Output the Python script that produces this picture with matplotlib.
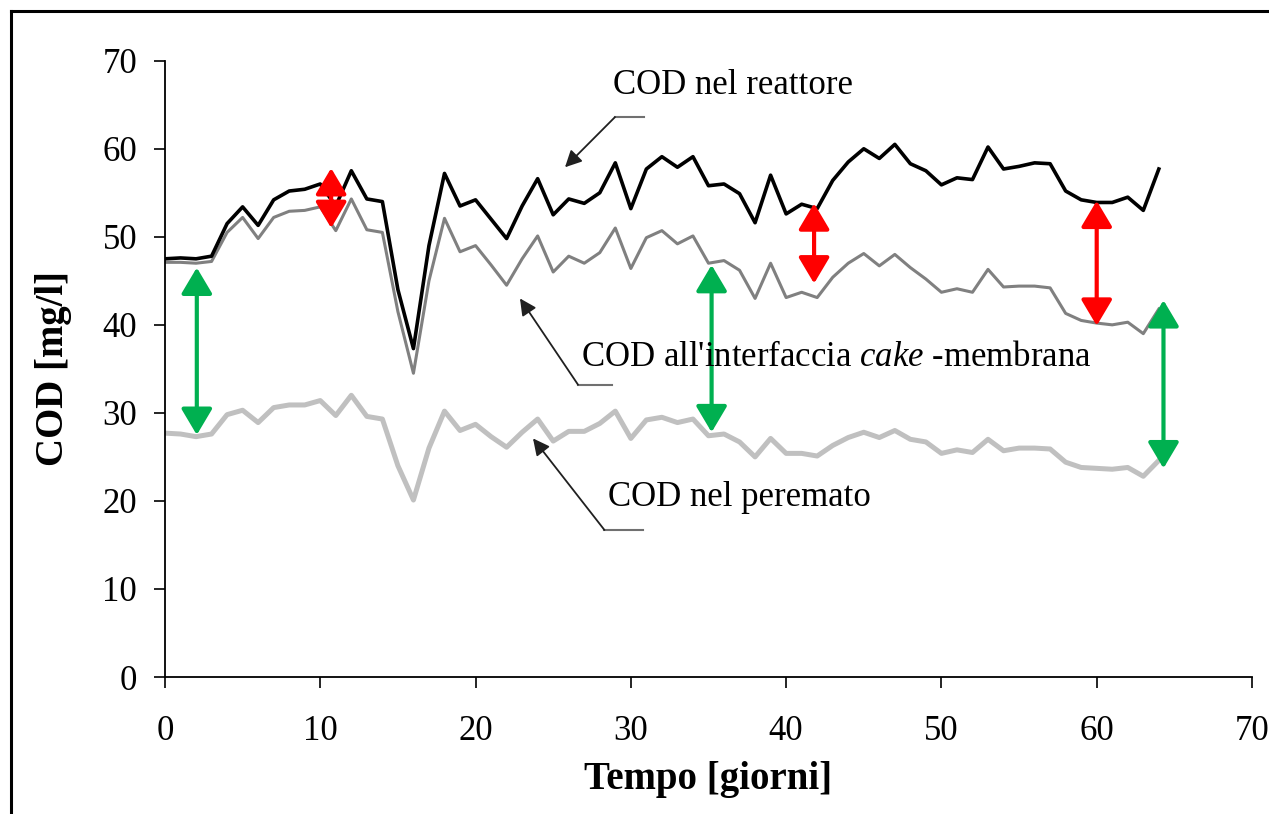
import matplotlib
matplotlib.use('Agg')
import matplotlib.pyplot as plt
from matplotlib.lines import Line2D

plt.rcParams['font.family'] = ['Liberation Serif', 'DejaVu Serif']
plt.rcParams['mathtext.fontset'] = 'custom'
plt.rcParams['mathtext.rm'] = 'Liberation Serif'
plt.rcParams['mathtext.it'] = 'Liberation Serif:italic'

# giorni 0..64
giorni = list(range(65))
reattore = [47.5, 47.6, 47.5, 47.8, 51.5, 53.4, 51.3, 54.2, 55.2, 55.4,
            56.0, 53.5, 57.5, 54.3, 54.0, 44.0, 37.3, 49.0, 57.2, 53.5,
            54.2, 52.0, 49.8, 53.5, 56.6, 52.5, 54.3, 53.8, 55.0, 58.4,
            53.2, 57.7, 59.1, 57.9, 59.1, 55.8, 56.0, 54.9, 51.6, 57.0,
            52.6, 53.7, 53.2, 56.4, 58.5, 60.0, 58.9, 60.5, 58.3, 57.5,
            55.9, 56.7, 56.5, 60.2, 57.7, 58.0, 58.4, 58.3, 55.2, 54.2,
            53.9, 53.9, 54.5, 53.0, 57.7]
interfaccia = [47.1, 47.1, 47.0, 47.2, 50.5, 52.2, 49.8, 52.2, 52.9, 53.0,
               53.4, 50.7, 54.3, 50.8, 50.5, 41.5, 34.5, 45.0, 52.1, 48.3,
               49.0, 46.8, 44.5, 47.5, 50.1, 46.0, 47.8, 47.0, 48.2, 51.0,
               46.4, 49.9, 50.7, 49.2, 50.1, 47.0, 47.3, 46.2, 43.0, 47.0,
               43.1, 43.7, 43.1, 45.4, 47.0, 48.1, 46.7, 48.0, 46.5, 45.2,
               43.7, 44.1, 43.7, 46.3, 44.3, 44.4, 44.4, 44.2, 41.3, 40.5,
               40.2, 40.0, 40.3, 39.0, 41.8]
permeato = [27.7, 27.6, 27.3, 27.6, 29.8, 30.3, 28.9, 30.6, 30.9, 30.9,
            31.4, 29.7, 32.0, 29.6, 29.3, 24.0, 20.1, 26.0, 30.2, 28.0,
            28.7, 27.3, 26.1, 27.8, 29.3, 26.8, 27.9, 27.9, 28.8, 30.2,
            27.1, 29.2, 29.5, 28.9, 29.3, 27.4, 27.6, 26.7, 25.0, 27.1,
            25.4, 25.4, 25.1, 26.3, 27.2, 27.8, 27.2, 28.0, 27.0, 26.7,
            25.4, 25.8, 25.5, 27.0, 25.7, 26.0, 26.0, 25.9, 24.4, 23.8,
            23.7, 23.6, 23.8, 22.8, 24.6]

# frecce doppie (x, y basso, y alto)
frecce_rosse = [(10.7, 51.0, 57.8), (41.8, 44.7, 53.8), (60.0, 39.9, 54.1)]
frecce_verdi = [(2.05, 27.5, 46.5), (35.2, 27.8, 46.8), (64.3, 23.7, 42.8)]

fig = plt.figure(figsize=(12.69, 8.14), dpi=100)
ax = fig.add_axes([0.130, 0.1683, 0.8566, 0.7571])

ax.plot(giorni, permeato, color='#c0c0c0', lw=3.6, solid_joinstyle='round')
ax.plot(giorni, interfaccia, color='#808080', lw=2.2, solid_joinstyle='round')
ax.plot(giorni, reattore, color='black', lw=2.6, solid_joinstyle='round')

stile = '<|-|>,head_length=1.6,head_width=0.95'
for x, y0, y1 in frecce_rosse:
    ax.annotate('', xy=(x, y1), xytext=(x, y0),
                arrowprops=dict(arrowstyle=stile, color='#ff0000', lw=3,
                                mutation_scale=10, shrinkA=0, shrinkB=0))
for x, y0, y1 in frecce_verdi:
    ax.annotate('', xy=(x, y1), xytext=(x, y0),
                arrowprops=dict(arrowstyle=stile, color='#00b050', lw=3,
                                mutation_scale=10, shrinkA=0, shrinkB=0))

# etichette con freccia
etichette = [
    ("COD nel reattore", (28.85, 67.2), (28.98, 30.84, 63.6), (25.76, 57.9)),
    ("COD all'interfaccia $\\mathit{cake}$ -membrana", (26.8, 36.3), (26.6, 28.8, 33.2), (22.86, 43.0)),
    ("COD nel peremato", (28.5, 20.4), (28.3, 30.8, 16.7), (23.7, 27.1)),
]
for testo, pos, seg, punta in etichette:
    ax.text(pos[0], pos[1], testo, fontsize=25, ha='left', va='center', color='black')
    ax.plot([seg[0], seg[1]], [seg[2], seg[2]], color='#707070', lw=1.5)
    ax.annotate('', xy=punta, xytext=(seg[0], seg[2]),
                arrowprops=dict(arrowstyle='-|>,head_length=1.0,head_width=0.5',
                                color='#202020', lw=1.3, mutation_scale=10,
                                shrinkA=0, shrinkB=0))

ax.set_xlim(0, 70)
ax.set_ylim(0, 70)
ax.set_xticks(range(0, 71, 10))
ax.set_yticks(range(0, 71, 10))
ax.spines['top'].set_visible(False)
ax.spines['right'].set_visible(False)
for s in ('left', 'bottom'):
    ax.spines[s].set_linewidth(1.3)
ax.tick_params(axis='both', direction='out', length=8, width=1.2, labelsize=25)
ax.tick_params(axis='y', pad=12)
ax.tick_params(axis='x', pad=19)
ax.set_xlabel('Tempo [giorni]', fontsize=28, fontweight='bold', labelpad=10)
ax.set_ylabel('COD [mg/l]', fontsize=28, fontweight='bold', labelpad=22)

# cornice
fig.add_artist(Line2D([11 / 1269, 1.0], [1 - 11 / 814, 1 - 11 / 814],
                      transform=fig.transFigure, color='black', lw=2.2))
fig.add_artist(Line2D([11 / 1269, 11 / 1269], [0.0, 1 - 11 / 814],
                      transform=fig.transFigure, color='black', lw=2.2))

fig.savefig('out.png', dpi=100)
